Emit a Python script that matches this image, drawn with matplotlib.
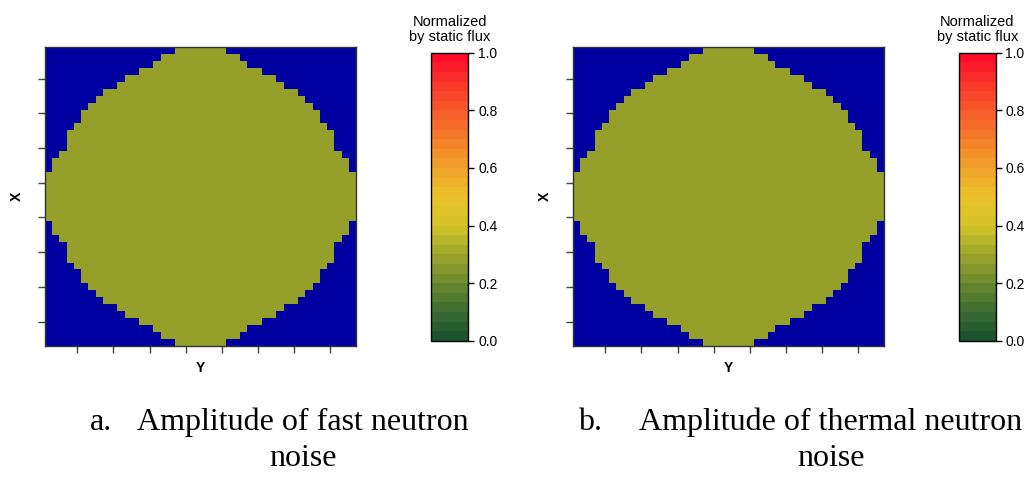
import numpy as np
import matplotlib
matplotlib.use("Agg")
import matplotlib.pyplot as plt
from matplotlib.colors import LinearSegmentedColormap, ListedColormap

plt.rcParams['font.family'] = ['Liberation Sans', 'DejaVu Sans']

# Core layout: half-width (in cells, around the centre column) of the fuelled
# region for each row of the upper half, centre row last.
grid_size = 43
upper_half_widths = [3, 5, 6, 8, 10, 11, 13, 14, 15, 16, 16, 17, 18, 18, 18,
                     19, 20, 20, 21, 21, 21, 21]

# Noise amplitude inside the core, normalized by the static flux
fast_amplitude = 0.28
thermal_amplitude = 0.28

panel_letters = ["a.", "b."]
panel_captions = [["Amplitude of fast neutron", "noise"],
                  ["Amplitude of thermal neutron", "noise"]]
cbar_ticks = [0.0, 0.2, 0.4, 0.6, 0.8, 1.0]
cbar_title = "Normalized\nby static flux"

# Discrete green-yellow-red colour scale with 30 levels
anchor_pos = [0.0, 0.1, 0.2, 0.3, 0.4, 0.5, 0.6, 0.7, 0.8, 0.9, 1.0]
anchor_col = ["#16502e", "#3a6c30", "#6c882e", "#9ea62a", "#d2c428",
              "#ecc22a", "#f0a22a", "#f47e2a", "#f65a2a", "#f9342a", "#ff0528"]
base = LinearSegmentedColormap.from_list("flux", list(zip(anchor_pos, anchor_col)))
cmap = ListedColormap(base((np.arange(30) + 0.5) / 30))
cmap.set_bad("#0000a0")


def core_map(value):
    widths = upper_half_widths + upper_half_widths[-2::-1]
    centre = grid_size // 2
    cols = np.arange(grid_size)
    field = np.full((grid_size, grid_size), np.nan)
    for r, w in enumerate(widths):
        inside = np.abs(cols - centre) <= w
        field[r, inside] = value
    return np.ma.masked_invalid(field)


fig = plt.figure(figsize=(10.32, 4.78), dpi=100)
W, H = 1032, 478


def fig_rect(x0, y0, x1, y1):
    return [x0 / W, 1 - y1 / H, (x1 - x0) / W, (y1 - y0) / H]


axes_px = [(44.7, 47.3, 355.7, 346.0), (572.7, 47.3, 883.5, 346.0)]
cbar_px = [(430.7, 52.7, 468.3, 340.7), (958.7, 52.7, 995.7, 340.7)]
letter_x = [90, 578]
caption_x = [303, 831]

for i, amp in enumerate([fast_amplitude, thermal_amplitude]):
    ax = fig.add_axes(fig_rect(*axes_px[i]))
    im = ax.imshow(core_map(amp), cmap=cmap, vmin=0, vmax=1,
                   interpolation="nearest", aspect="auto")
    ax.set_xticks(range(4, grid_size, 5))
    ax.set_yticks(range(4, grid_size, 5))
    ax.set_xticklabels([])
    ax.set_yticklabels([])
    ax.tick_params(length=5, width=1, color="#444444", direction="out")
    for s in ax.spines.values():
        s.set_color("#333333")
        s.set_linewidth(1.0)
    ax.set_xlabel("Y", fontsize=10, fontweight="bold", labelpad=2.5)
    ax.set_ylabel("X", fontsize=10, fontweight="bold", labelpad=6.5)

    cax = fig.add_axes(fig_rect(*cbar_px[i]))
    cb = fig.colorbar(im, cax=cax, ticks=cbar_ticks)
    cb.ax.set_yticklabels([f"{t:.1f}" for t in cbar_ticks])
    cb.ax.tick_params(length=4, width=1, labelsize=10, pad=3)
    cb.outline.set_linewidth(1.0)
    cb.outline.set_edgecolor("black")
    cx = (cbar_px[i][0] + cbar_px[i][2]) / 2 / W
    fig.text(cx, 1 - 44 / H, cbar_title, ha="center", va="bottom",
             fontsize=10.5, linespacing=1.05)

    fig.text(letter_x[i] / W, 1 - 430 / H, panel_letters[i],
             family=["Liberation Serif"], fontsize=23, ha="left", va="baseline")
    line1, line2 = panel_captions[i]
    fig.text(caption_x[i] / W, 1 - 430 / H, line1,
             family=["Liberation Serif"], fontsize=23, ha="center", va="baseline")
    fig.text(caption_x[i] / W, 1 - 466 / H, line2,
             family=["Liberation Serif"], fontsize=23, ha="center", va="baseline")

fig.savefig("out.png", dpi=100)
